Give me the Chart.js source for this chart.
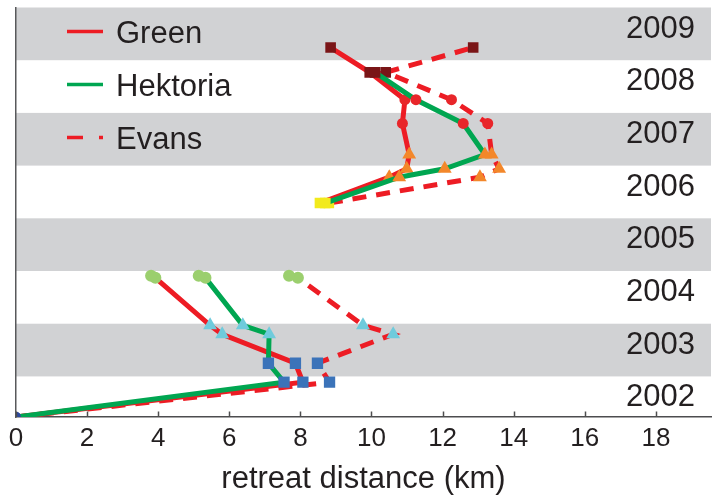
<!DOCTYPE html>
<html>
<head>
<meta charset="utf-8">
<script src="https://cdn.jsdelivr.net/npm/chart.js@4/dist/chart.umd.min.js"></script>
<style>
  body { margin: 0; background: #fff; }
  canvas { display: block; }
</style>
</head>
<body>
<canvas id="grafico" width="727" height="495"></canvas>
<script>
// time of each survey (decimal year), null = no data between 2005 and 2006
const years = [2002.23, 2002.89, 2003.25, 2003.80, 2003.97, 2004.87, 2004.91, null,
  2006.29, 2006.78, 2006.94, 2007.21, 2007.80, 2008.25, 2008.77, 2009.24];

// retreat distance (km) for each glacier at those times
const greenKm    = [0, 8.07, 7.86, 5.80, 5.46, 3.92, 3.80, null, 8.55, 10.50, 10.99, 11.06, 10.87, 10.94, 9.95, 8.85];
const hektoriaKm = [0, 7.54, 7.10, 7.12, 6.38, 5.33, 5.14, null, 8.70, 10.78, 12.06, 13.19, 12.58, 11.25, 10.10, null];
const evansKm    = [0, 8.82, 8.48, 10.61, 9.76, 7.93, 7.68, null, 8.80, 13.05, 13.59, 13.38, 13.27, 12.25, 10.40, 12.86];

const bandYears = [2002, 2003, 2004, 2005, 2006, 2007, 2008, 2009];
const xTicks = [0, 2, 4, 6, 8, 10, 12, 14, 16, 18];
const nomes = ["Green", "Hektoria", "Evans"];

// marker look for each survey
const marcador = ["circle", "rect", "rect", "triangle", "triangle", "circle", "circle", "circle",
  "rect", "triangle", "triangle", "triangle", "circle", "circle", "rect", "rect"];
const corMarcador = ["#2e4a9e", "#3b73b9", "#3b73b9", "#6fcbdc", "#6fcbdc", "#9bcf6e", "#9bcf6e", "#000",
  "#f2ea1c", "#f3872a", "#f3872a", "#f3872a", "#e8262a", "#e8262a", "#7a1517", "#7a1517"];
const raioMarcador = [5, 8, 8, 8, 8, 6, 6, 0, 7.5, 8, 8, 8, 5.5, 5.5, 7.5, 7.5];

const FONTE = "'Liberation Sans', Arial, sans-serif";
const TEXTO = "#231f20";
const VERMELHO = "#ed1c24";
const VERDE = "#00a651";

function pontos(km) {
  return km.map((v, i) => ({ x: v, y: v === null ? null : years[i] }));
}

function serie(nome, km, cor, tracejado, ordem) {
  return {
    label: nome,
    data: pontos(km),
    showLine: true,
    spanGaps: false,
    borderColor: cor,
    borderWidth: 5,
    borderDash: tracejado ? [14, 10] : [],
    borderCapStyle: "butt",
    order: ordem,
    pointStyle: marcador,
    pointRadius: raioMarcador,
    pointBackgroundColor: corMarcador,
    pointBorderWidth: 0,
    pointHoverRadius: raioMarcador,
  };
}

//faixas cinza/brancas de cada ano
const faixas = {
  id: "faixas",
  beforeDraw(chart) {
    const { ctx, chartArea, scales } = chart;
    ctx.save();
    bandYears.forEach((ano) => {
      if (ano % 2 === 0) return;
      const y1 = Math.max(scales.y.getPixelForValue(ano + 1), chartArea.top);
      const y2 = Math.min(scales.y.getPixelForValue(ano), chartArea.bottom);
      ctx.fillStyle = "#d1d2d4";
      ctx.fillRect(chartArea.left, y1, chartArea.right - chartArea.left, y2 - y1);
    });
    ctx.restore();
  },
  afterDraw(chart) {
    const { ctx, chartArea, scales } = chart;
    ctx.save();

    //marcas dos ticks para dentro
    ctx.strokeStyle = "#4d4d4f";
    ctx.lineWidth = 1.5;
    xTicks.forEach((v) => {
      const x = Math.round(scales.x.getPixelForValue(v)) + 0.5;
      ctx.beginPath();
      ctx.moveTo(x, chartArea.bottom);
      ctx.lineTo(x, chartArea.bottom - 5.5);
      ctx.stroke();
    });

    //rotulos dos anos
    ctx.fillStyle = TEXTO;
    ctx.font = "31px " + FONTE;
    ctx.textAlign = "right";
    ctx.textBaseline = "alphabetic";
    bandYears.forEach((ano) => {
      ctx.fillText(String(ano), chartArea.right - 16, scales.y.getPixelForValue(ano + 0.43));
    });

    //legenda
    const cores = [VERMELHO, VERDE, VERMELHO];
    ctx.textAlign = "left";
    ctx.lineWidth = 3.5;
    nomes.forEach((nome, i) => {
      const yl = chartArea.top + 24 + i * 53;
      ctx.strokeStyle = cores[i];
      ctx.setLineDash(i === 2 ? [16, 16] : []);
      ctx.beginPath();
      ctx.moveTo(chartArea.left + 51, yl);
      ctx.lineTo(chartArea.left + 87, yl);
      ctx.stroke();
      ctx.fillText(nome, chartArea.left + 100, yl + 11);
    });
    ctx.restore();
  },
};

new Chart(document.getElementById("grafico"), {
  type: "scatter",
  data: {
    datasets: [
      serie("Hektoria", hektoriaKm, VERDE, false, 0),
      serie("Green", greenKm, VERMELHO, false, 1),
      serie("Evans", evansKm, VERMELHO, true, 2),
    ],
  },
  options: {
    responsive: false,
    devicePixelRatio: 1,
    animation: false,
    layout: { padding: { left: 16, right: 16, top: 7, bottom: -5 } },
    plugins: {
      legend: { display: false },
      tooltip: { enabled: false },
    },
    scales: {
      x: {
        type: "linear",
        min: 0,
        max: 19.55,
        afterBuildTicks: (escala) => {
          escala.ticks = xTicks.map((v) => ({ value: v }));
        },
        grid: { display: false, drawTicks: false },
        border: { display: true, color: "#4d4d4f", width: 1.5 },
        ticks: {
          color: TEXTO,
          padding: 6.3,
          maxRotation: 0,
          font: { size: 26, family: FONTE },
        },
        title: {
          display: true,
          text: "retreat distance (km)",
          color: TEXTO,
          font: { size: 31, family: FONTE },
          padding: { top: 0, bottom: 2 },
        },
      },
      y: {
        type: "linear",
        min: 2002.23,
        max: 2010,
        grid: { display: false, drawTicks: false },
        border: { display: true, color: "#58595b", width: 1.5 },
        ticks: { display: false },
      },
    },
  },
  plugins: [faixas],
});
</script>
</body>
</html>
